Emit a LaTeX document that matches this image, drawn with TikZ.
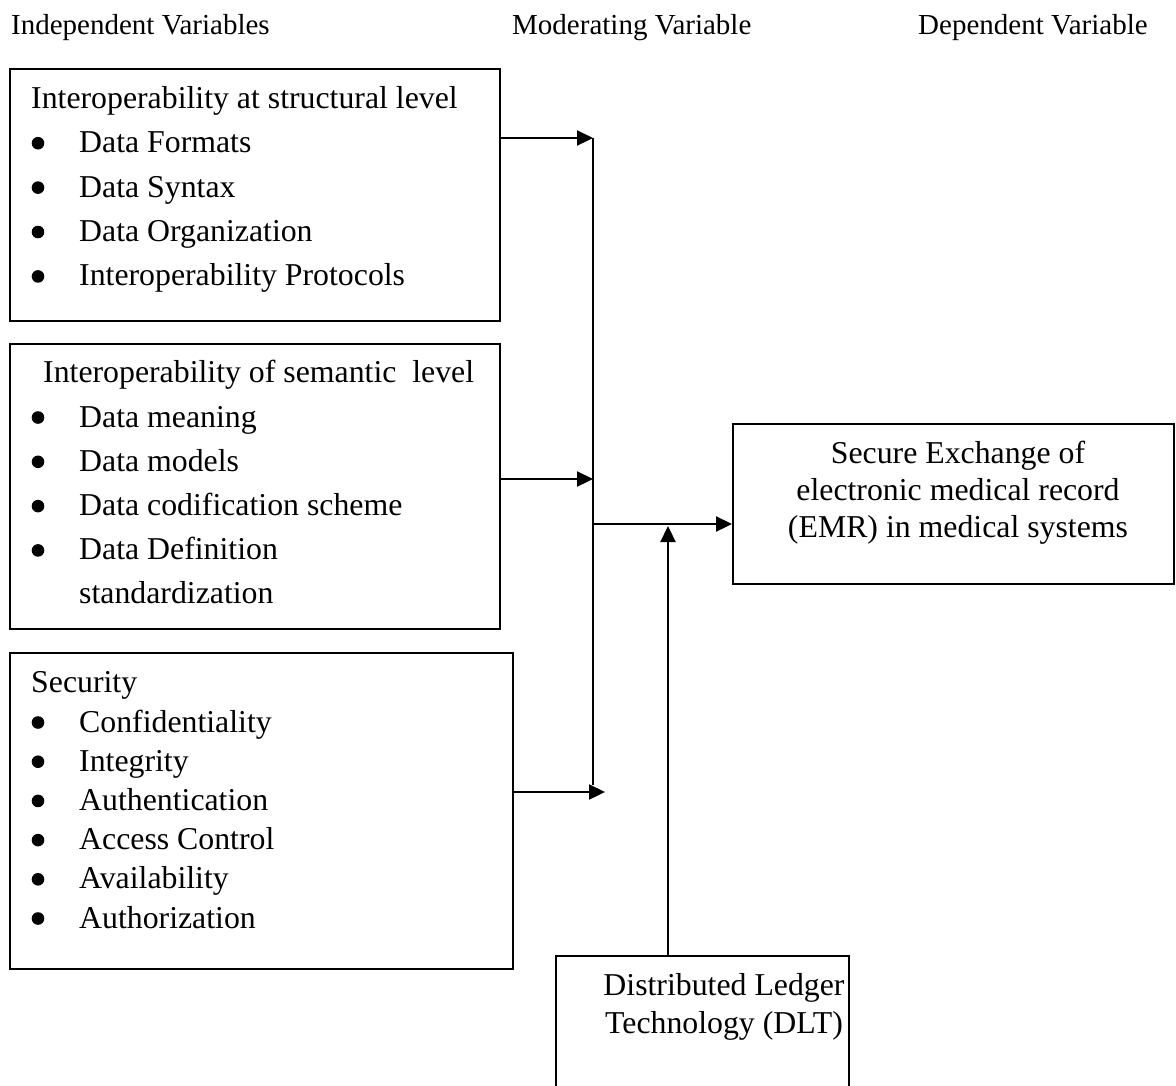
\documentclass[tikz,border=0pt]{standalone}
\usepackage{fontspec}
\setmainfont{Liberation Serif}
\usetikzlibrary{arrows.meta}
\begin{document}
\begin{tikzpicture}[x=1pt,y=-1pt,
  box/.style={draw, line width=1.6pt, inner sep=0pt, anchor=north west},
  title/.style={anchor=base west, inner sep=0pt, font=\fontsize{29}{34}\selectfont},
  txt/.style={anchor=base west, inner sep=0pt, font=\fontsize{31.8}{38}\selectfont},
  ctxt/.style={anchor=base, inner sep=0pt, font=\fontsize{31.8}{38}\selectfont},
  dot/.style={fill=black},
  link/.style={line width=2.3pt, -{Triangle[length=16pt,width=15pt]}},
  plain/.style={line width=2.3pt}]
\useasboundingbox (0,0) rectangle (1176,1085);
\clip (0,0) rectangle (1176,1085);

% column titles
\node[title] (tind) at (11,34) {Independent Variables};
\node[title] (tmod) at (512,34) {Moderating Variable};
\node[title] (tdep) at (918,34) {Dependent Variable};

% boxes
\node[box, minimum width=490pt, minimum height=252pt] (struct) at (9,68) {};
\node[box, minimum width=490pt, minimum height=285pt] (sem) at (9,343) {};
\node[box, minimum width=503pt, minimum height=316pt] (sec) at (9,652) {};
\node[box, minimum width=441pt, minimum height=160pt] (res) at (732,423) {};
\node[box, minimum width=293pt, minimum height=150pt] (dlt) at (555,955) {};

% structural level
\node[txt] (h1) at (31,108) {Interoperability at structural level};
\foreach \t [count=\i] in {Data Formats, Data Syntax, Data Organization, Interoperability Protocols}{
  \node[txt] (s\i) at (79,{152.7+44.4*(\i-1)}) {\t};
  \fill[dot] ([xshift=-41pt,yshift=9.5pt]s\i.base west) circle (6.3pt);
}

% semantic level
\node[txt] (h2) at (43,382) {Interoperability of semantic\ \ level};
\foreach \t [count=\i] in {Data meaning, Data models, Data codification scheme, Data Definition}{
  \node[txt] (m\i) at (79,{427+44.3*(\i-1)}) {\t};
  \fill[dot] ([xshift=-41pt,yshift=9.5pt]m\i.base west) circle (6.3pt);
}
\node[txt] (m5) at (79,603) {standardization};

% security
\node[txt] (h3) at (31,692) {Security};
\foreach \t [count=\i] in {Confidentiality, Integrity, Authentication, Access Control, Availability, Authorization}{
  \node[txt] (c\i) at (79,{732+39.2*(\i-1)}) {\t};
  \fill[dot] ([xshift=-41pt,yshift=9.5pt]c\i.base west) circle (6.3pt);
}

% dependent variable
\node[ctxt] (r1) at (958,463) {Secure Exchange of};
\node[ctxt] (r2) at (958,500) {electronic medical record};
\node[ctxt] (r3) at (958,537) {(EMR) in medical systems};

% moderating variable
\node[ctxt] (d1) at (724,995) {Distributed Ledger};
\node[ctxt] (d2) at (724,1033) {Technology (DLT)};

% connectors
\coordinate (j1) at (593,138);
\coordinate (j2) at (593,479);
\coordinate (jm) at (593,524);
\coordinate (jend) at (593,785);
\coordinate (t3) at (605,792);
\coordinate (up) at (668,526);

\draw[plain] (j1) -- (jend);
\draw[link] (struct.east |- j1) -- (j1);
\draw[link] (sem.east |- j2) -- (j2);
\draw[link] (sec.east |- t3) -- (t3);
\draw[link] (jm) -- (res.west |- jm);
\draw[link] (dlt.north -| up) -- (up);
\end{tikzpicture}
\end{document}
